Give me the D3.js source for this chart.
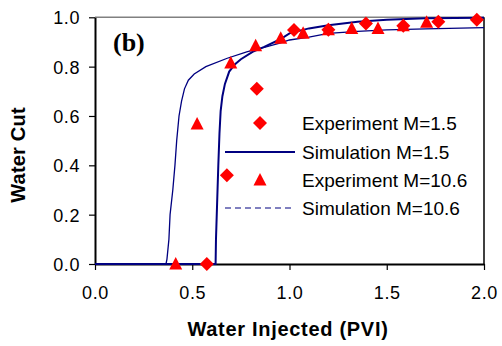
<!DOCTYPE html>
<html>
<head>
<meta charset="utf-8">
<script src="https://cdn.jsdelivr.net/npm/d3@7"></script>
<style>
  body { margin: 0; background: #fff; }
  svg { display: block; font-family: Arial, "Liberation Sans", sans-serif; }
</style>
</head>
<body>
<div id="chart"></div>
<script>
// water cut vs PVI, panel (b)

const xTicks = [0, 0.5, 1.0, 1.5, 2.0];
const yTicks = [0, 0.2, 0.4, 0.6, 0.8, 1.0];

// experiment, M=1.5 (diamonds)
const expLowX = [0.575, 0.678, 0.832, 1.023, 1.20, 1.393, 1.585, 1.765, 1.963];
const expLowY = [0.0, 0.36, 0.71, 0.949, 0.95, 0.975, 0.966, 0.982, 0.99];

// experiment, M=10.6 (triangles)
const expHighX = [0.415, 0.525, 0.698, 0.826, 0.955, 1.07, 1.20, 1.32, 1.455, 1.585, 1.705];
const expHighY = [0.0, 0.567, 0.815, 0.885, 0.915, 0.935, 0.95, 0.955, 0.955, 0.966, 0.98];

// simulation, M=1.5
const simLowX = [0, 0.62, 0.622, 0.628, 0.634, 0.64, 0.646, 0.655, 0.668, 0.69, 0.72, 0.75, 0.81, 0.87, 0.95, 1.0, 1.1, 1.2, 1.35, 1.5, 1.7, 2.0];
const simLowY = [0, 0, 0.1, 0.25, 0.4, 0.53, 0.62, 0.68, 0.73, 0.78, 0.81, 0.83, 0.86, 0.88, 0.91, 0.935, 0.955, 0.968, 0.982, 0.99, 0.996, 0.998];

// simulation, M=10.6
const simHighX = [0, 0.365, 0.37, 0.38, 0.386, 0.40, 0.411, 0.42, 0.432, 0.445, 0.46, 0.48, 0.51, 0.57, 0.68, 0.78, 0.88, 0.95, 1.0, 1.1, 1.2, 1.35, 1.5, 1.7, 2.0];
const simHighY = [0, 0, 0.02, 0.1, 0.2, 0.3, 0.4, 0.5, 0.6, 0.66, 0.71, 0.745, 0.77, 0.80, 0.834, 0.86, 0.88, 0.895, 0.908, 0.92, 0.935, 0.943, 0.949, 0.953, 0.958];

const legendLabels = ['Experiment M=1.5', 'Simulation M=1.5', 'Experiment M=10.6', 'Simulation M=10.6'];

const width = 502;
const height = 346;
const navy = '#000080';
const red = '#ff0000';

const svg = d3.select('#chart')
  .append('svg')
  .attr('width', width)
  .attr('height', height);

const x = d3.scaleLinear().domain([0, 2]).range([95, 484]);
const y = d3.scaleLinear().domain([0, 1]).range([264, 17.3]);

// plot frame (top + right)
svg.append('line')
  .attr('x1', x(0)).attr('x2', x(2))
  .attr('y1', y(1)).attr('y2', y(1))
  .attr('stroke', '#808080').attr('stroke-width', 1.5);
svg.append('line')
  .attr('x1', x(2)).attr('x2', x(2))
  .attr('y1', y(1)).attr('y2', y(0))
  .attr('stroke', '#000').attr('stroke-width', 1.5);

// axes
const xAxis = svg.append('g')
  .attr('transform', `translate(0,${y(0)})`)
  .call(d3.axisBottom(x).tickValues(xTicks).tickSize(6).tickSizeOuter(0).tickPadding(16).tickFormat(d3.format('.1f')));
const yAxis = svg.append('g')
  .attr('transform', `translate(${x(0)},0)`)
  .call(d3.axisLeft(y).tickValues(yTicks).tickSize(6).tickSizeOuter(0).tickPadding(9).tickFormat(d3.format('.1f')));

[xAxis, yAxis].forEach(a => {
  a.select('.domain').attr('stroke', '#000').attr('stroke-width', 2);
  a.selectAll('.tick line').attr('stroke', '#000').attr('stroke-width', 1.2);
  a.selectAll('.tick text')
    .attr('fill', '#000')
    .style('font-size', '18px')
    .style('letter-spacing', '0.6px')
    .style('font-family', 'Arial, "Liberation Sans", sans-serif');
});
yAxis.selectAll('.tick text').attr('dy', '0.36em');

// axis titles
svg.append('text')
  .attr('x', 288).attr('y', 336)
  .attr('text-anchor', 'middle')
  .style('font-size', '20px').style('font-weight', 'bold').style('letter-spacing', '0.7px')
  .text('Water Injected (PVI)');
svg.append('text')
  .attr('transform', 'translate(25,155) rotate(-90)')
  .attr('text-anchor', 'middle')
  .style('font-size', '20px').style('font-weight', 'bold').style('letter-spacing', '0.2px')
  .text('Water Cut');

// panel label
svg.append('text')
  .attr('x', 113).attr('y', 51)
  .style('font-family', '"Liberation Serif", "Times New Roman", serif')
  .style('font-size', '26px').style('font-weight', 'bold')
  .text('(b)');

// simulation curves
const line = d3.line().x(d => x(d[0])).y(d => y(d[1]));

svg.append('path')
  .datum(d3.zip(simHighX, simHighY))
  .attr('d', line)
  .attr('fill', 'none')
  .attr('stroke', navy)
  .attr('stroke-width', 1.3);

svg.append('path')
  .datum(d3.zip(simLowX, simLowY))
  .attr('d', line)
  .attr('fill', 'none')
  .attr('stroke', navy)
  .attr('stroke-width', 2);

// markers
const diamond = 'M0,-7L7,0L0,7L-7,0Z';
const triangle = 'M0,-7L6.5,5.5L-6.5,5.5Z';

svg.append('g').selectAll('path')
  .data(d3.zip(expLowX, expLowY))
  .enter()
  .append('path')
  .attr('d', diamond)
  .attr('transform', d => `translate(${x(d[0])},${y(d[1])})`)
  .attr('fill', red);

svg.append('g').selectAll('path')
  .data(d3.zip(expHighX, expHighY))
  .enter()
  .append('path')
  .attr('d', triangle)
  .attr('transform', d => `translate(${x(d[0])},${y(d[1])})`)
  .attr('fill', red);

// legend
const legend = svg.append('g');
const rowY = [123, 152, 180, 208];
const mx = 260;

legend.append('path').attr('d', diamond).attr('transform', `translate(${mx},${rowY[0]})`).attr('fill', red);
legend.append('line')
  .attr('x1', 225).attr('x2', 295).attr('y1', rowY[1]).attr('y2', rowY[1])
  .attr('stroke', navy).attr('stroke-width', 2);
legend.append('path').attr('d', triangle).attr('transform', `translate(${mx},${rowY[2]})`).attr('fill', red);
legend.append('line')
  .attr('x1', 225).attr('x2', 295).attr('y1', rowY[3]).attr('y2', rowY[3])
  .attr('stroke', navy).attr('stroke-width', 1.2)
  .attr('stroke-dasharray', '6,4');

legend.selectAll('text')
  .data(legendLabels)
  .enter()
  .append('text')
  .attr('x', 302)
  .attr('y', (d, i) => rowY[i] + 7)
  .style('font-size', '19px')
  .attr('fill', '#000')
  .text(d => d);
</script>
</body>
</html>
